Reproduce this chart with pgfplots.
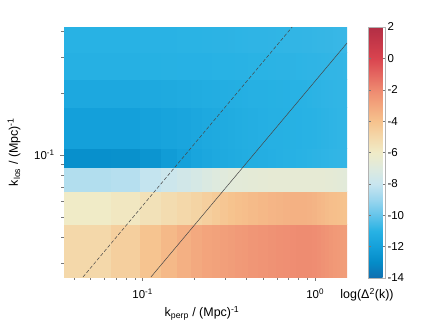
\documentclass[border=0pt]{standalone}
\usepackage{pgfplots}
\usepackage{pgfplotstable}
\pgfplotsset{compat=1.18}
\usepackage{fontspec}
\setmainfont{Liberation Sans}
\definecolor{tickgray}{RGB}{120,120,120}
\definecolor{linegray}{RGB}{70,70,70}

\pgfplotstableread{
x y c
0.035 0.0256 -5.0
0.066 0.0256 -4.6
0.097 0.0256 -4.1
0.128 0.0256 -3.7
0.159 0.0256 -3.35
0.190 0.0256 -3.1
0.221 0.0256 -2.95
0.252 0.0256 -2.85
0.283 0.0256 -2.75
0.314 0.0256 -2.7
0.345 0.0256 -2.6
0.376 0.0256 -2.55
0.407 0.0256 -2.45
0.469 0.0256 -2.4
0.531 0.0256 -2.3
0.593 0.0256 -2.25
0.655 0.0256 -2.2
0.717 0.0256 -2.15
0.779 0.0256 -2.1
0.841 0.0256 -2.1
0.903 0.0256 -2.1
0.965 0.0256 -2.15
1.027 0.0256 -2.2
1.089 0.0256 -2.3
1.151 0.0256 -2.4
1.213 0.0256 -2.5
1.275 0.0256 -2.55
1.337 0.0256 -2.6
1.399 0.0256 -2.65
1.461 0.0256 -2.7
1.53 0.0256 -2.7
0.035 0.0463 -6.0
0.066 0.0463 -5.8
0.097 0.0463 -5.5
0.128 0.0463 -5.2
0.159 0.0463 -5.0
0.190 0.0463 -4.8
0.221 0.0463 -4.6
0.252 0.0463 -4.4
0.283 0.0463 -4.2
0.314 0.0463 -4.05
0.345 0.0463 -3.95
0.376 0.0463 -3.85
0.407 0.0463 -3.75
0.469 0.0463 -3.65
0.531 0.0463 -3.55
0.593 0.0463 -3.5
0.655 0.0463 -3.45
0.717 0.0463 -3.4
0.779 0.0463 -3.4
0.841 0.0463 -3.4
0.903 0.0463 -3.45
0.965 0.0463 -3.5
1.027 0.0463 -3.6
1.089 0.0463 -3.7
1.151 0.0463 -3.8
1.213 0.0463 -3.85
1.275 0.0463 -3.9
1.337 0.0463 -3.95
1.399 0.0463 -4.0
1.461 0.0463 -4.05
1.53 0.0463 -4.05
0.035 0.067 -8.5
0.066 0.067 -8.4
0.097 0.067 -8.1
0.128 0.067 -7.8
0.159 0.067 -7.6
0.190 0.067 -7.4
0.221 0.067 -7.2
0.252 0.067 -7.0
0.283 0.067 -6.9
0.314 0.067 -6.8
0.345 0.067 -6.75
0.376 0.067 -6.7
0.407 0.067 -6.65
0.469 0.067 -6.6
0.531 0.067 -6.55
0.593 0.067 -6.55
0.655 0.067 -6.55
0.717 0.067 -6.55
0.779 0.067 -6.55
0.841 0.067 -6.55
0.903 0.067 -6.55
0.965 0.067 -6.55
1.027 0.067 -6.55
1.089 0.067 -6.55
1.151 0.067 -6.6
1.213 0.067 -6.6
1.275 0.067 -6.65
1.337 0.067 -6.7
1.399 0.067 -6.75
1.461 0.067 -6.8
1.53 0.067 -6.8
0.035 0.0877 -12.8
0.066 0.0877 -12.75
0.097 0.0877 -12.55
0.128 0.0877 -12.2
0.159 0.0877 -11.95
0.190 0.0877 -11.75
0.221 0.0877 -11.6
0.252 0.0877 -11.5
0.283 0.0877 -11.45
0.314 0.0877 -11.4
0.345 0.0877 -11.35
0.376 0.0877 -11.3
0.407 0.0877 -11.25
0.469 0.0877 -11.2
0.531 0.0877 -11.15
0.593 0.0877 -11.1
0.655 0.0877 -11.06
0.717 0.0877 -11.03
0.779 0.0877 -11.0
0.841 0.0877 -10.98
0.903 0.0877 -10.96
0.965 0.0877 -10.94
1.027 0.0877 -10.92
1.089 0.0877 -10.9
1.151 0.0877 -10.88
1.213 0.0877 -10.86
1.275 0.0877 -10.85
1.337 0.0877 -10.84
1.399 0.0877 -10.83
1.461 0.0877 -10.82
1.53 0.0877 -10.82
0.035 0.1084 -12.0
0.066 0.1084 -12.0
0.097 0.1084 -11.9
0.128 0.1084 -11.8
0.159 0.1084 -11.7
0.190 0.1084 -11.6
0.221 0.1084 -11.5
0.252 0.1084 -11.45
0.283 0.1084 -11.4
0.314 0.1084 -11.35
0.345 0.1084 -11.3
0.376 0.1084 -11.25
0.407 0.1084 -11.2
0.469 0.1084 -11.15
0.531 0.1084 -11.12
0.593 0.1084 -11.1
0.655 0.1084 -11.08
0.717 0.1084 -11.06
0.779 0.1084 -11.04
0.841 0.1084 -11.02
0.903 0.1084 -11.0
0.965 0.1084 -10.98
1.027 0.1084 -10.96
1.089 0.1084 -10.94
1.151 0.1084 -10.92
1.213 0.1084 -10.9
1.275 0.1084 -10.88
1.337 0.1084 -10.86
1.399 0.1084 -10.85
1.461 0.1084 -10.84
1.53 0.1084 -10.84
0.035 0.1705 -11.55
0.066 0.1705 -11.55
0.097 0.1705 -11.5
0.128 0.1705 -11.45
0.159 0.1705 -11.4
0.190 0.1705 -11.35
0.221 0.1705 -11.3
0.252 0.1705 -11.27
0.283 0.1705 -11.24
0.314 0.1705 -11.21
0.345 0.1705 -11.18
0.376 0.1705 -11.15
0.407 0.1705 -11.12
0.469 0.1705 -11.1
0.531 0.1705 -11.08
0.593 0.1705 -11.06
0.655 0.1705 -11.04
0.717 0.1705 -11.02
0.779 0.1705 -11.0
0.841 0.1705 -10.98
0.903 0.1705 -10.96
0.965 0.1705 -10.94
1.027 0.1705 -10.92
1.089 0.1705 -10.9
1.151 0.1705 -10.88
1.213 0.1705 -10.87
1.275 0.1705 -10.86
1.337 0.1705 -10.85
1.399 0.1705 -10.84
1.461 0.1705 -10.83
1.53 0.1705 -10.83
0.035 0.2326 -11.1
0.066 0.2326 -11.1
0.097 0.2326 -11.08
0.128 0.2326 -11.06
0.159 0.2326 -11.05
0.190 0.2326 -11.04
0.221 0.2326 -11.03
0.252 0.2326 -11.02
0.283 0.2326 -11.01
0.314 0.2326 -11.0
0.345 0.2326 -10.99
0.376 0.2326 -10.98
0.407 0.2326 -10.97
0.469 0.2326 -10.96
0.531 0.2326 -10.95
0.593 0.2326 -10.94
0.655 0.2326 -10.93
0.717 0.2326 -10.92
0.779 0.2326 -10.91
0.841 0.2326 -10.9
0.903 0.2326 -10.89
0.965 0.2326 -10.88
1.027 0.2326 -10.87
1.089 0.2326 -10.86
1.151 0.2326 -10.85
1.213 0.2326 -10.84
1.275 0.2326 -10.83
1.337 0.2326 -10.82
1.399 0.2326 -10.81
1.461 0.2326 -10.8
1.53 0.2326 -10.8
0.035 0.3154 -11.0
0.066 0.3154 -11.0
0.097 0.3154 -10.99
0.128 0.3154 -10.98
0.159 0.3154 -10.97
0.190 0.3154 -10.96
0.221 0.3154 -10.95
0.252 0.3154 -10.94
0.283 0.3154 -10.93
0.314 0.3154 -10.92
0.345 0.3154 -10.91
0.376 0.3154 -10.9
0.407 0.3154 -10.89
0.469 0.3154 -10.88
0.531 0.3154 -10.87
0.593 0.3154 -10.86
0.655 0.3154 -10.85
0.717 0.3154 -10.84
0.779 0.3154 -10.83
0.841 0.3154 -10.82
0.903 0.3154 -10.81
0.965 0.3154 -10.8
1.027 0.3154 -10.79
1.089 0.3154 -10.78
1.151 0.3154 -10.77
1.213 0.3154 -10.76
1.275 0.3154 -10.75
1.337 0.3154 -10.74
1.399 0.3154 -10.73
1.461 0.3154 -10.72
1.53 0.3154 -10.72
0.035 0.4189 -11.0
0.066 0.4189 -11.0
0.097 0.4189 -10.99
0.128 0.4189 -10.98
0.159 0.4189 -10.97
0.190 0.4189 -10.96
0.221 0.4189 -10.95
0.252 0.4189 -10.94
0.283 0.4189 -10.93
0.314 0.4189 -10.92
0.345 0.4189 -10.91
0.376 0.4189 -10.9
0.407 0.4189 -10.89
0.469 0.4189 -10.88
0.531 0.4189 -10.87
0.593 0.4189 -10.86
0.655 0.4189 -10.85
0.717 0.4189 -10.84
0.779 0.4189 -10.83
0.841 0.4189 -10.82
0.903 0.4189 -10.81
0.965 0.4189 -10.8
1.027 0.4189 -10.79
1.089 0.4189 -10.78
1.151 0.4189 -10.77
1.213 0.4189 -10.76
1.275 0.4189 -10.75
1.337 0.4189 -10.74
1.399 0.4189 -10.73
1.461 0.4189 -10.72
1.53 0.4189 -10.72
}\powertable

\begin{document}
\begin{tikzpicture}
\useasboundingbox (-64bp,-52bp) rectangle (372bp,277bp);
\begin{axis}[
  at={(0,0)}, anchor=south west,
  scale only axis, width=283bp, height=250bp,
  xmode=log, ymode=log,
  xmin=0.035, xmax=1.53, ymin=0.0256, ymax=0.4189,
  axis line style={draw=none},
  tick align=outside, xtick pos=bottom, ytick pos=left,
  xtick={0.1,1}, xticklabels={10\textsuperscript{-1},10\textsuperscript{0}},
  ytick={0.1}, yticklabels={10\textsuperscript{-1}},
  minor xtick={0.04,0.05,0.06,0.07,0.08,0.09,0.2,0.3,0.4,0.5,0.6,0.7,0.8,0.9},
  minor ytick={0.03,0.04,0.05,0.06,0.07,0.08,0.09,0.2,0.3,0.4},
  major tick length=4bp, minor tick length=3bp,
  tick style={tickgray, line width=0.5pt},
  xticklabel style={font=\fontsize{11.5}{13}\selectfont, yshift=-4bp},
  yticklabel style={font=\fontsize{11.5}{13}\selectfont, xshift=-2bp},
  colormap={lr}{rgb255=(16,110,175) rgb255=(5,140,200) rgb255=(20,160,218)
    rgb255=(40,178,228) rgb255=(100,196,234) rgb255=(155,214,238)
    rgb255=(200,229,239) rgb255=(222,234,222) rgb255=(240,235,199)
    rgb255=(244,216,170) rgb255=(246,194,141) rgb255=(243,166,125)
    rgb255=(238,137,112) rgb255=(228,102,96) rgb255=(217,68,79)
    rgb255=(198,56,73) rgb255=(178,46,69)},
  point meta min=-14, point meta max=2,
  colorbar,
  colorbar style={
    at={(parent axis.north east)}, anchor=north west, xshift=13bp,
    width=17bp, height=251bp,
    ytick={-14,-12,...,2}, ymin=-14, ymax=2,
    axis line style={draw=gray!60, line width=0.4pt},
    major tick length=2.5bp, tick style={tickgray, line width=0.4pt},
    yticklabel style={font=\fontsize{11.5}{13}\selectfont, xshift=-1.5bp,
      /pgf/number format/assume math mode=true},
  },
]
\addplot[surf, shader=flat corner, mesh/cols=31, mesh/rows=9, point meta=explicit]
  table[x=x, y=y, meta=c] {\powertable};
\addplot[linegray, line width=0.5pt, dash pattern=on 3.5bp off 2bp]
  coordinates {(0.0451,0.0256) (0.736,0.4189)};
\addplot[linegray, line width=0.5pt]
  coordinates {(0.1117,0.0256) (1.53,0.350)};
\end{axis}
\node[rotate=90, font=\fontsize{12.5}{14}\selectfont] at (-50bp,125bp)
  {k\textsubscript{los} / (Mpc)\textsuperscript{-1}};
\node[font=\fontsize{12.5}{14}\selectfont] at (138bp,-36bp)
  {k\textsubscript{perp} / (Mpc)\textsuperscript{-1}};
\node[font=\fontsize{12.5}{14}\selectfont] at (303bp,-18bp)
  {log(Δ\textsuperscript{2}(k))};
\end{tikzpicture}
\end{document}
